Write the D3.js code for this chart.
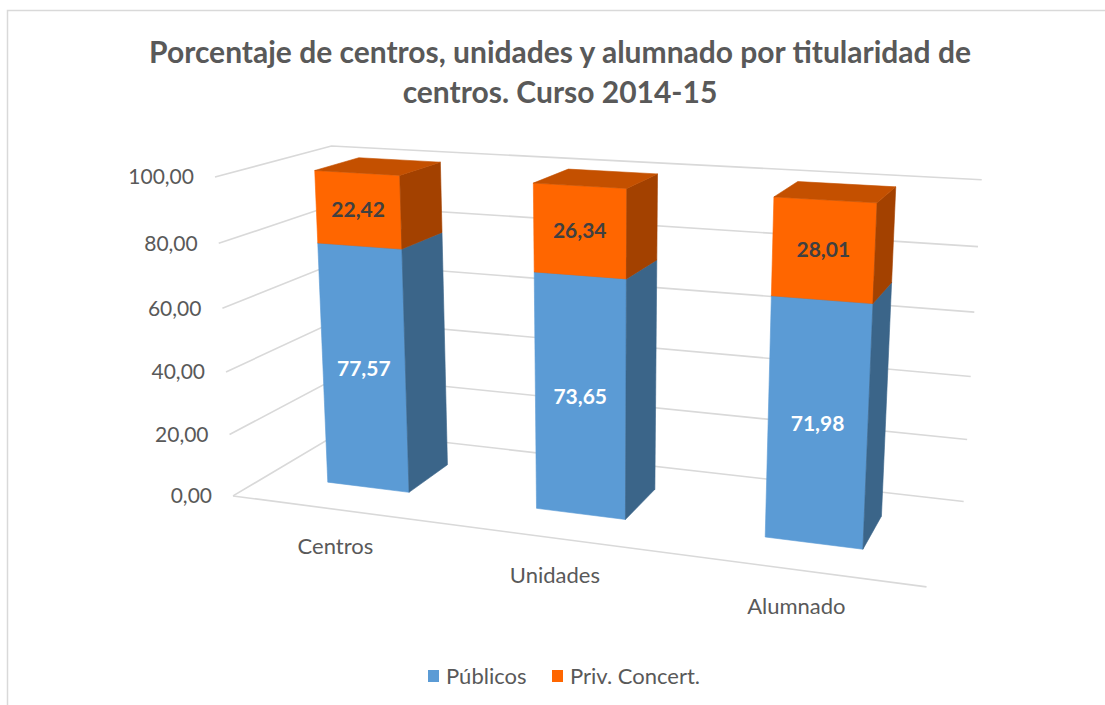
<!DOCTYPE html>
<html>
<head>
<meta charset="utf-8">
<script src="https://cdn.jsdelivr.net/npm/d3@7"></script>
<style>
    body { margin: 0; background: #ffffff; }
    text { font-family: Lato, "Open Sans", sans-serif; }
</style>
</head>
<body>
<div id="vis"></div>
<script>
const frame_width = 1105;
const frame_height = 705;

// data
const categories = ["Centros", "Unidades", "Alumnado"];
const series_names = ["Públicos", "Priv. Concert."];
const publicos = [77.57, 73.65, 71.98];
const privados = [22.42, 26.34, 28.01];
const tick_values = [0, 20, 40, 60, 80, 100];

const front_colors = ["#5B9BD5", "#FF6600"];
const side_colors = ["#3B6589", "#A34100"];
const top_colors = ["#4A7FB0", "#C45000"];
const label_colors = ["#ffffff", "#404040"];

// perspective camera (screen centre, focal length, tilt and turn)
const cam = {cx: 600, cy: 334, f: 1685, pitch: 14.2, yaw: 19.7, origin: [-217.8, 96.1, 1000]};
const box = {w: 409.6, h: 190.7, d: 136.5};

const p = cam.pitch * Math.PI / 180;
const yw = cam.yaw * Math.PI / 180;
const ax_x = [Math.cos(yw), Math.sin(yw) * Math.sin(p), -Math.sin(yw) * Math.cos(p)];
const ax_y = [0, -Math.cos(p), -Math.sin(p)];
const ax_z = [Math.sin(yw), -Math.cos(yw) * Math.sin(p), Math.cos(yw) * Math.cos(p)];

function project(x, y, z) {
    const c = [0, 1, 2].map((i) => {
        return cam.origin[i] + x * ax_x[i] + y * ax_y[i] + z * ax_z[i];
    });
    return [cam.cx + cam.f * c[0] / c[2], cam.cy + cam.f * c[1] / c[2]];
}

const x_scale = d3.scaleBand()
    .domain(categories)
    .range([0, box.w])
    .paddingInner(0.6)
    .paddingOuter(0.3);

const y_scale = d3.scaleLinear()
    .domain([0, 100])
    .range([0, box.h]);

const fmt = d3.formatLocale({decimal: ",", thousands: ".", grouping: [3], currency: ["", "€"]});
const tick_fmt = fmt.format(".2f");

const frame = d3.select("#vis")
    .append("svg")
        .attr("width", frame_width)
        .attr("height", frame_height);

// chart border
frame.append("rect")
    .attr("x", 7.5)
    .attr("y", 10.5)
    .attr("width", 1120)
    .attr("height", 720)
    .attr("fill", "none")
    .attr("stroke", "#d9d9d9")
    .attr("stroke-width", 1.5);

const line = d3.line();

// gridlines: side wall then back wall
const grid = frame.append("g")
    .attr("fill", "none")
    .attr("stroke", "#d9d9d9")
    .attr("stroke-width", 1.6);

tick_values.forEach((v) => {
    const y = y_scale(v);
    grid.append("path")
        .attr("d", line([project(0, y, 0), project(0, y, box.d), project(box.w, y, box.d)]));
});

// floor front edge
grid.append("path")
    .attr("d", line([project(0, 0, 0), project(box.w, 0, 0)]));

// value axis labels
frame.append("g")
    .selectAll("text")
    .data(tick_values)
    .enter()
    .append("text")
        .attr("x", (d) => { return project(0, y_scale(d), 0)[0] - 21; })
        .attr("y", (d) => { return project(0, y_scale(d), 0)[1]; })
        .attr("dy", "0.35em")
        .attr("text-anchor", "end")
        .attr("font-size", "21px")
        .attr("fill", "#595959")
        .text((d) => { return tick_fmt(d); });

// category labels
frame.append("g")
    .selectAll("text")
    .data(categories)
    .enter()
    .append("text")
        .attr("x", (d) => { return project(x_scale(d) + x_scale.bandwidth() / 2, 0, 0)[0]; })
        .attr("y", (d) => { return project(x_scale(d) + x_scale.bandwidth() / 2, 0, 0)[1] + 37; })
        .attr("dy", "0.35em")
        .attr("text-anchor", "middle")
        .attr("font-size", "22px")
        .attr("fill", "#595959")
        .text((d) => { return d; });

// stacked 3d columns
const bar_w = x_scale.bandwidth();
const z0 = (box.d - bar_w) / 2;
const z1 = z0 + bar_w;
const bars = frame.append("g");
const labels = [];

categories.forEach((cat, i) => {
    const x0 = x_scale(cat);
    const x1 = x0 + bar_w;
    const vals = [publicos[i], privados[i]];
    let base = 0;
    vals.forEach((v, s) => {
        const ya = y_scale(base);
        const yb = y_scale(base + v);
        const faces = [
            {pts: [[x0, ya, z0], [x1, ya, z0], [x1, yb, z0], [x0, yb, z0]], color: front_colors[s]},
            {pts: [[x1, ya, z0], [x1, ya, z1], [x1, yb, z1], [x1, yb, z0]], color: side_colors[s]},
            {pts: [[x0, yb, z0], [x1, yb, z0], [x1, yb, z1], [x0, yb, z1]], color: top_colors[s]}
        ];
        faces.forEach((fc) => {
            bars.append("path")
                .attr("d", line(fc.pts.map((q) => { return project(q[0], q[1], q[2]); })) + "Z")
                .attr("fill", fc.color)
                .attr("stroke", fc.color)
                .attr("stroke-width", 0.6);
        });
        const c = project(x0 + bar_w / 2, (ya + yb) / 2, z0);
        labels.push({x: c[0], y: c[1], value: v, color: label_colors[s]});
        base += v;
    });
});

frame.append("g")
    .selectAll("text")
    .data(labels)
    .enter()
    .append("text")
        .attr("x", (d) => { return d.x; })
        .attr("y", (d) => { return d.y; })
        .attr("dy", "0.35em")
        .attr("text-anchor", "middle")
        .attr("font-size", "21px")
        .attr("font-weight", "bold")
        .attr("fill", (d) => { return d.color; })
        .text((d) => { return tick_fmt(d.value); });

// title
const title = frame.append("text")
    .attr("x", 560)
    .attr("y", 52)
    .attr("text-anchor", "middle")
    .attr("font-size", "30px")
    .attr("font-weight", "bold")
    .attr("fill", "#595959");
title.append("tspan")
    .attr("x", 560)
    .attr("dy", "0.35em")
    .text("Porcentaje de centros, unidades y alumnado por titularidad de");
title.append("tspan")
    .attr("x", 560)
    .attr("dy", 40)
    .text("centros. Curso 2014-15");

// legend
const legend = frame.append("g")
    .selectAll("g")
    .data(series_names)
    .enter()
    .append("g")
        .attr("transform", (d, i) => { return "translate(" + (428 + i * 124) + ",676)"; });

legend.append("rect")
    .attr("x", 0)
    .attr("y", -6)
    .attr("width", 11)
    .attr("height", 12)
    .attr("fill", (d, i) => { return front_colors[i]; });

legend.append("text")
    .attr("x", 18)
    .attr("y", 0)
    .attr("dy", "0.35em")
    .attr("font-size", "22px")
    .attr("fill", "#595959")
    .text((d) => { return d; });
</script>
</body>
</html>
